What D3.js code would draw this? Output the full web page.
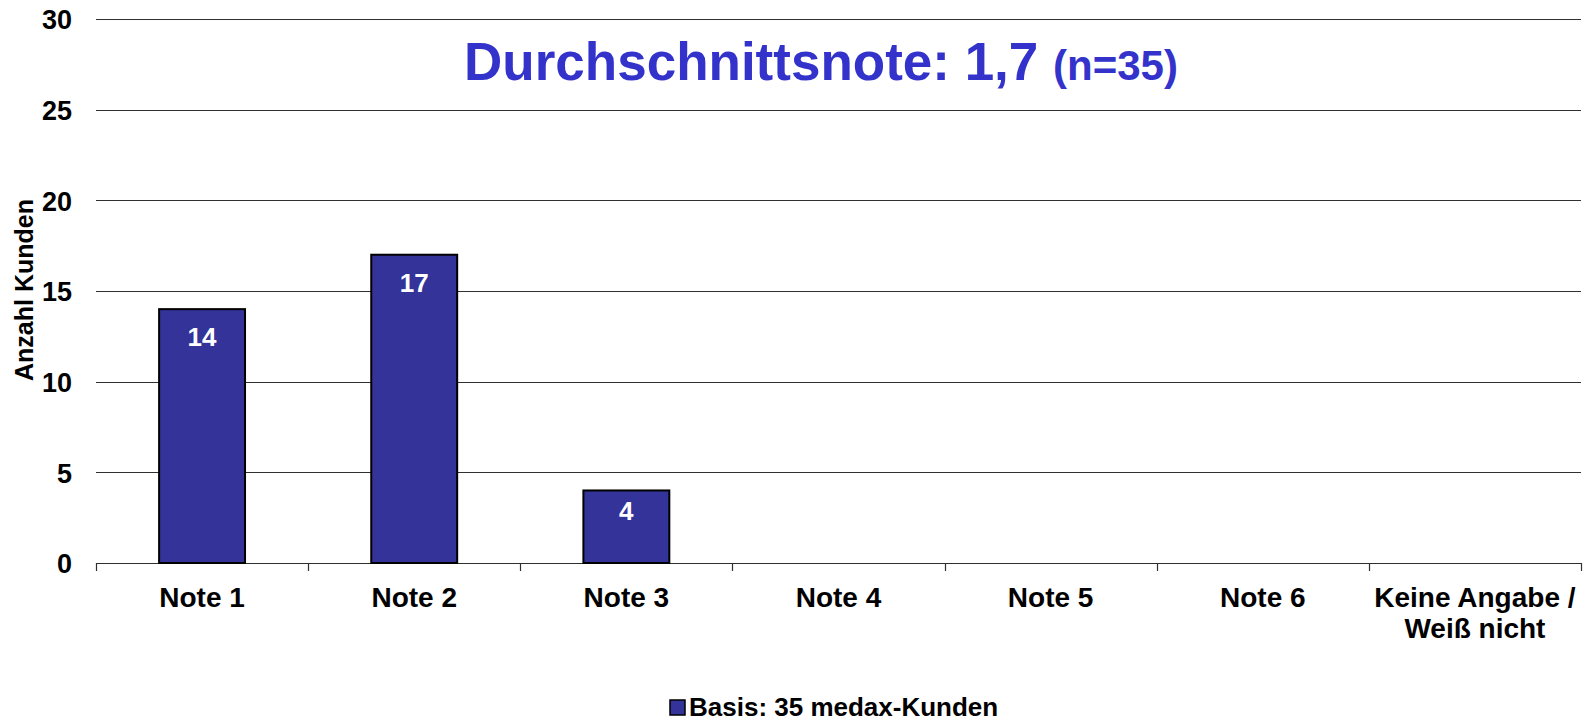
<!DOCTYPE html>
<html>
<head>
<meta charset="utf-8">
<script src="https://cdn.jsdelivr.net/npm/d3@7"></script>
<style>
  html, body { margin: 0; padding: 0; background: #fff; }
  svg { display: block; font-family: "Liberation Sans", Arial, sans-serif; font-weight: bold; }
</style>
</head>
<body>
<svg id="chart" width="1588" height="722"></svg>
<script>
const categories = ["Note 1", "Note 2", "Note 3", "Note 4", "Note 5", "Note 6", "Keine Angabe /\nWeiß nicht"];
const values = [14, 17, 4, 0, 0, 0, 0];
const yTicks = [0, 5, 10, 15, 20, 25, 30];
const titleMain = "Durchschnittsnote: 1,7";
const titleSub = "(n=35)";
const yLabel = "Anzahl Kunden";
const legendLabel = "Basis: 35 medax-Kunden";

const svg = d3.select("#chart");
const plotLeft = 96, plotRight = 1581, plotTop = 19, plotBottom = 563;

const x = d3.scaleBand().domain(categories).range([plotLeft, plotRight]).padding(0);
const y = d3.scaleLinear().domain([0, 30]).range([plotBottom, plotTop]);

// gridlines
svg.append("g").selectAll("line").data(yTicks).join("line")
  .attr("x1", plotLeft).attr("x2", plotRight)
  .attr("y1", d => Math.round(y(d)) + 0.5).attr("y2", d => Math.round(y(d)) + 0.5)
  .attr("stroke", "#303030").attr("stroke-width", 1.2);

// y axis labels
const yAxis = d3.axisLeft(y).tickValues(yTicks).tickSize(0).tickPadding(0).tickFormat(d3.format("d"));
const gy = svg.append("g").attr("transform", `translate(${plotLeft - 24},0)`).call(yAxis);
gy.select(".domain").remove();
gy.selectAll("text").attr("font-size", 27).attr("font-weight", "bold").attr("fill", "#000")
  .attr("font-family", "'Liberation Sans', Arial, sans-serif").attr("dy", "0.36em");

// x axis boundary ticks
const bounds = categories.map(c => x(c)).concat([plotRight]);
svg.append("g").selectAll("line").data(bounds).join("line")
  .attr("x1", d => Math.round(d) + 0.5).attr("x2", d => Math.round(d) + 0.5)
  .attr("y1", plotBottom).attr("y2", plotBottom + 8)
  .attr("stroke", "#303030").attr("stroke-width", 1.2);

// category labels
const cl = svg.append("g").selectAll("text").data(categories).join("text")
  .attr("x", d => x(d) + x.bandwidth() / 2)
  .attr("y", 607)
  .attr("text-anchor", "middle")
  .attr("font-size", 28).attr("fill", "#000");
cl.each(function(d) {
  const t = d3.select(this);
  d.split("\n").forEach((line, i) => {
    t.append("tspan").attr("x", x(d) + x.bandwidth() / 2).attr("dy", i === 0 ? 0 : 31).text(line);
  });
});

// bars
const data = categories.map((c, i) => ({ c, v: values[i] })).filter(d => d.v > 0);
const bw = x.bandwidth() * 0.405;
svg.append("g").selectAll("rect").data(data).join("rect")
  .attr("x", d => x(d.c) + (x.bandwidth() - bw) / 2)
  .attr("y", d => y(d.v))
  .attr("width", bw)
  .attr("height", d => y(0) - y(d.v))
  .attr("fill", "#333399")
  .attr("stroke", "#000").attr("stroke-width", 2);

// value labels
svg.append("g").selectAll("text").data(data).join("text")
  .attr("x", d => x(d.c) + x.bandwidth() / 2)
  .attr("y", d => y(d.v) + Math.min(37, (y(0) - y(d.v)) * 0.41))
  .attr("text-anchor", "middle")
  .attr("font-size", 26).attr("fill", "#fff")
  .text(d => d.v);

// title
const title = svg.append("text").attr("x", 821).attr("y", 80).attr("text-anchor", "middle").attr("fill", "#3333CC");
title.append("tspan").attr("font-size", 53).text(titleMain + " ");
title.append("tspan").attr("font-size", 42).text(titleSub);

// y label
svg.append("text")
  .attr("transform", "translate(33,290) rotate(-90)")
  .attr("text-anchor", "middle")
  .attr("font-size", 25).attr("fill", "#000")
  .text(yLabel);

// legend
svg.append("rect").attr("x", 670).attr("y", 700).attr("width", 15).attr("height", 15)
  .attr("fill", "#333399").attr("stroke", "#000").attr("stroke-width", 1.5);
svg.append("text").attr("x", 689).attr("y", 716).attr("font-size", 26).attr("fill", "#000").text(legendLabel);
</script>
</body>
</html>
